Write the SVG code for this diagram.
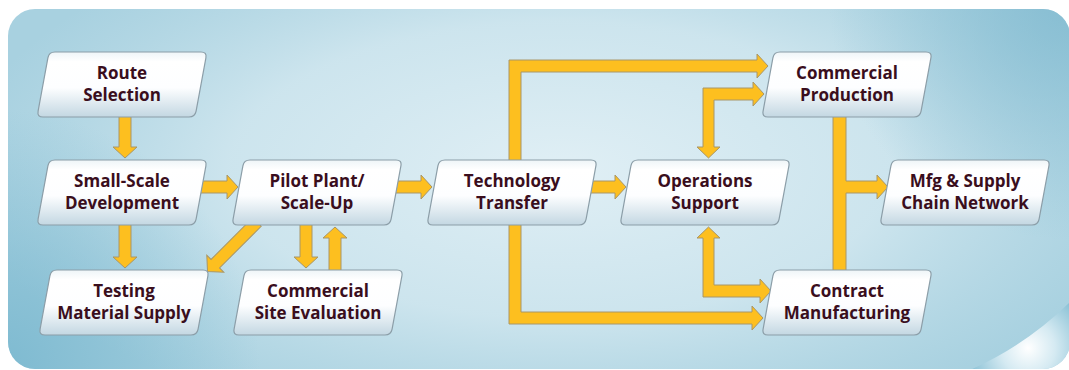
<svg xmlns="http://www.w3.org/2000/svg" xmlns:xlink="http://www.w3.org/1999/xlink" width="1069" height="370" viewBox="0 0 1069 370">
  <defs>
    <style>
      .node { fill: url(#nodeFill); stroke: #8c9ea8; stroke-width: 1.2; }
      .lbl { font-family: "Open Sans", "Noto Sans", "Liberation Sans", sans-serif; font-weight: 700; font-size: 17px; fill: #3a0e1d; text-anchor: middle; }
      .arw { fill: #fdbf1f; stroke: #a89668; stroke-width: 1; stroke-linejoin: miter; }
    </style>
    <linearGradient id="nodeFill" x1="0" y1="0" x2="0" y2="1">
      <stop offset="0" stop-color="#eef5f8"/>
      <stop offset="0.15" stop-color="#ffffff"/>
      <stop offset="0.55" stop-color="#fdfeff"/>
      <stop offset="1" stop-color="#c3d7e2"/>
    </linearGradient>
    <radialGradient id="bgGlow" gradientUnits="userSpaceOnUse" cx="560" cy="170" r="600" gradientTransform="translate(560 170) scale(1 0.45) translate(-560 -170)">
      <stop offset="0" stop-color="#e0eff5" stop-opacity="1"/>
      <stop offset="0.55" stop-color="#d3e8f0" stop-opacity="0.85"/>
      <stop offset="1" stop-color="#c6e1eb" stop-opacity="0"/>
    </radialGradient>
    <radialGradient id="bgShadeLeft" gradientUnits="userSpaceOnUse" cx="0" cy="370" r="260">
      <stop offset="0" stop-color="#6fb2cb" stop-opacity="0.75"/>
      <stop offset="1" stop-color="#6fb2cb" stop-opacity="0"/>
    </radialGradient>
    <radialGradient id="bgShadeTR" gradientUnits="userSpaceOnUse" cx="1069" cy="0" r="240">
      <stop offset="0" stop-color="#7fb9cf" stop-opacity="0.8"/>
      <stop offset="1" stop-color="#7fb9cf" stop-opacity="0"/>
    </radialGradient>
    <radialGradient id="swoosh" gradientUnits="userSpaceOnUse" cx="1028" cy="348" r="60">
      <stop offset="0" stop-color="#ffffff"/>
      <stop offset="0.45" stop-color="#d5eaf2"/>
      <stop offset="1" stop-color="#8cc2d6"/>
    </radialGradient>
    <clipPath id="panelClip">
      <rect x="8" y="9" width="1062" height="360" rx="27"/>
    </clipPath>
    <!-- rounded parallelogram used by every box -->
    <path id="pg" d="M18,0 H164 Q170,0 168.9,5.9 L159.1,59.1 Q158,65 152,65 H6 Q0,65 1.1,59.1 L10.9,5.9 Q12,0 18,0 Z"/>
  </defs>

  <!-- panel background -->
  <g id="panel" clip-path="url(#panelClip)">
    <rect x="0" y="0" width="1069" height="370" fill="#a8d1e0"/>
    <rect x="0" y="0" width="1069" height="370" fill="url(#bgGlow)"/>
    <rect x="0" y="0" width="1069" height="370" fill="url(#bgShadeLeft)"/>
    <rect x="0" y="0" width="1069" height="370" fill="url(#bgShadeTR)"/>
    <path d="M1069,303 A338,338 0 0,1 970,370 L1069,370 Z" fill="url(#swoosh)"/>
  </g>

  <!-- connectors -->
  <g id="connectors">
    <polygon class="arw" points="119,115 131,115 131,147 137,147 125,158 113,147 119,147"/>
    <polygon class="arw" points="119,222 131,222 131,257 137,257 125,268 113,257 119,257"/>
    <polygon class="arw" points="193,181 227,181 227,175 238,187 227,199 227,193 193,193"/>
    <polygon class="arw" transform="translate(257 222) rotate(135)" points="0,-6 59,-6 59,-12 70,0 59,12 59,6 0,6"/>
    <polygon class="arw" points="300,222 312,222 312,257 318,257 306,268 294,257 300,257"/>
    <polygon class="arw" points="329,272 341,272 341,238 347,238 335,227 323,238 329,238"/>
    <polygon class="arw" points="388,181 421,181 421,175 432,187 421,199 421,193 388,193"/>
    <polygon class="arw" points="583,181 615,181 615,175 626,187 615,199 615,193 583,193"/>
    <polygon class="arw" points="509,162 509,60 757,60 757,54 768,66 757,78 757,72 521,72 521,162"/>
    <polygon class="arw" points="509,222 509,324 752,324 752,330 763,318 752,306 752,312 521,312 521,222"/>
    <polygon class="arw" points="703,147 697,147 708.5,158 720,147 714,147 714,100 753,100 753,106 764,94 753,82 753,88 703,88"/>
    <polygon class="arw" points="703,238 697,238 708.5,227 720,238 714,238 714,285 760,285 760,279 771,291 760,303 760,297 703,297"/>
    <polygon class="arw" points="833,115 846,115 846,181 877,181 877,175 888,187 877,199 877,193 846,193 846,272 833,272"/>
  </g>

  <g id="route-selection">
    <use href="#pg" class="node" x="37" y="52"/>
    <text class="lbl"><tspan x="122" y="79">Route</tspan><tspan x="122" y="101">Selection</tspan></text>
  </g>
  <g id="small-scale-development">
    <use href="#pg" class="node" x="37" y="160"/>
    <text class="lbl"><tspan x="122" y="187">Small-Scale</tspan><tspan x="122" y="209">Development</tspan></text>
  </g>
  <g id="testing-material-supply">
    <use href="#pg" class="node" x="39" y="270"/>
    <text class="lbl"><tspan x="124" y="297">Testing</tspan><tspan x="124" y="319">Material Supply</tspan></text>
  </g>
  <g id="pilot-plant-scale-up">
    <use href="#pg" class="node" x="232" y="160"/>
    <text class="lbl"><tspan x="317" y="187">Pilot Plant/</tspan><tspan x="317" y="209">Scale-Up</tspan></text>
  </g>
  <g id="commercial-site-evaluation">
    <use href="#pg" class="node" x="233" y="270"/>
    <text class="lbl"><tspan x="318" y="297">Commercial</tspan><tspan x="318" y="319">Site Evaluation</tspan></text>
  </g>
  <g id="technology-transfer">
    <use href="#pg" class="node" x="427" y="160"/>
    <text class="lbl"><tspan x="512" y="187">Technology</tspan><tspan x="512" y="209">Transfer</tspan></text>
  </g>
  <g id="operations-support">
    <use href="#pg" class="node" x="620" y="160"/>
    <text class="lbl"><tspan x="705" y="187">Operations</tspan><tspan x="705" y="209">Support</tspan></text>
  </g>
  <g id="commercial-production">
    <use href="#pg" class="node" x="762" y="52"/>
    <text class="lbl"><tspan x="847" y="79">Commercial</tspan><tspan x="847" y="101">Production</tspan></text>
  </g>
  <g id="contract-manufacturing">
    <use href="#pg" class="node" x="762" y="270"/>
    <text class="lbl"><tspan x="847" y="297">Contract</tspan><tspan x="847" y="319">Manufacturing</tspan></text>
  </g>
  <g id="mfg-supply-chain-network">
    <use href="#pg" class="node" x="880" y="160"/>
    <text class="lbl"><tspan x="965" y="187">Mfg &amp; Supply</tspan><tspan x="965" y="209">Chain Network</tspan></text>
  </g>
</svg>
